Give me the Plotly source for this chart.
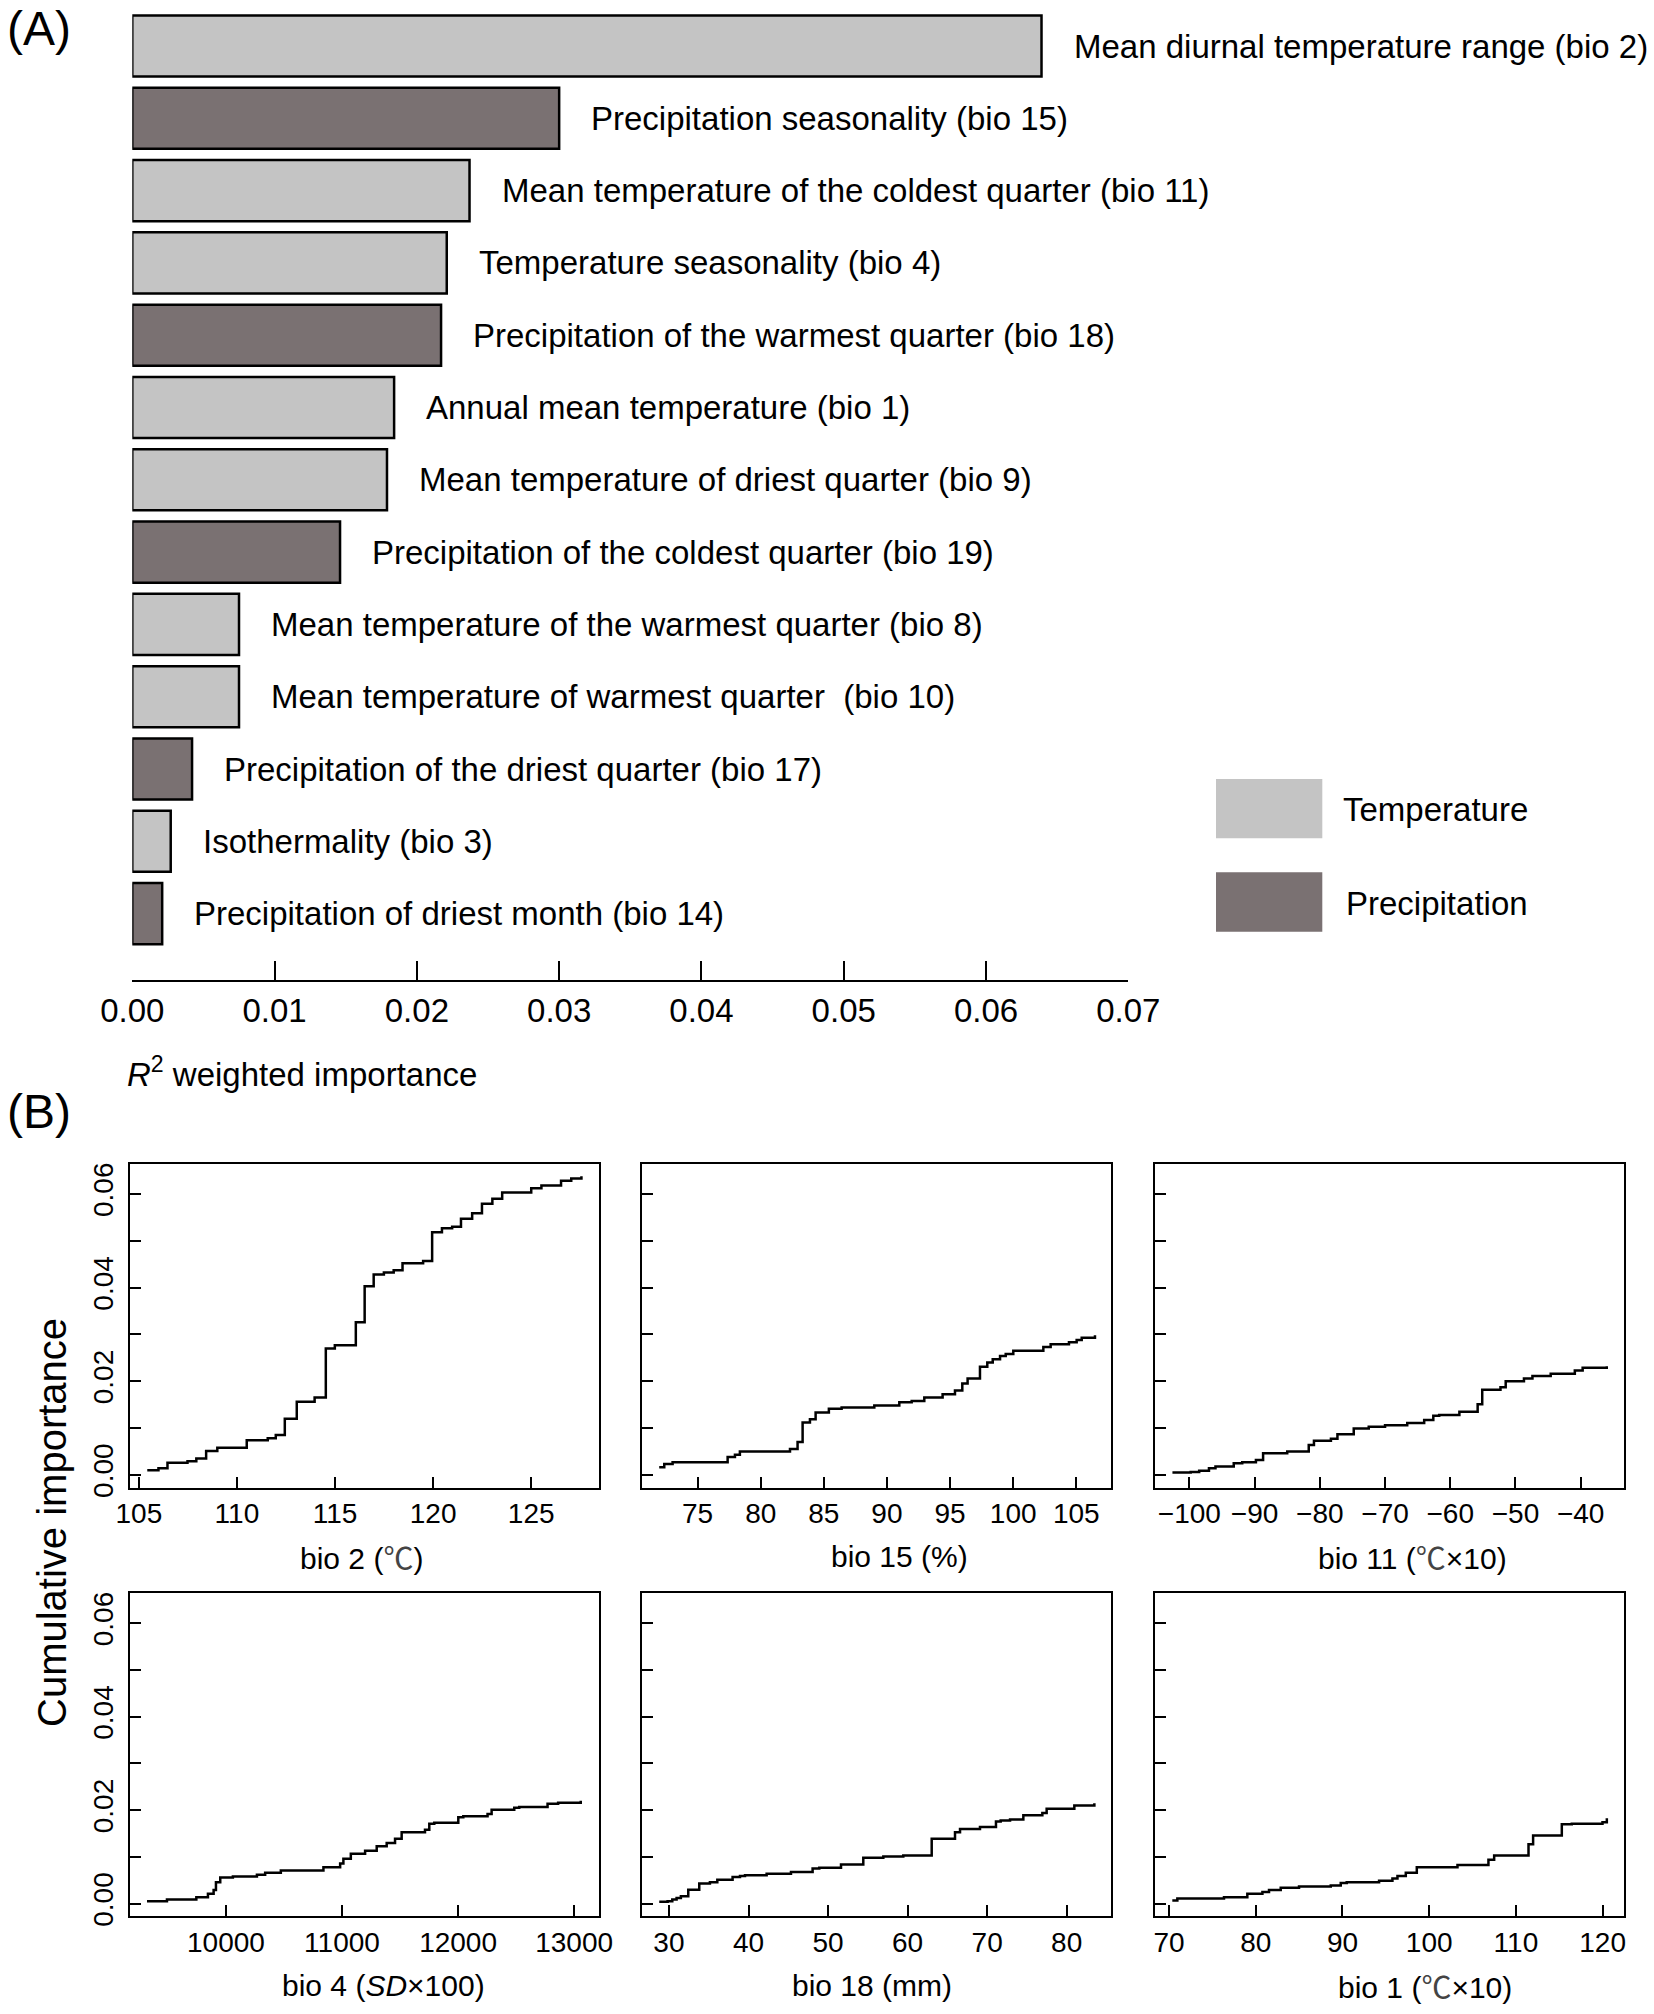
import plotly.graph_objects as go

W, H = 1654, 2014
FONT = "Liberation Sans, Arial, Noto Sans CJK SC, sans-serif"
DEG = "<span style=\"font-family:'Noto Sans CJK SC';color:#444444\">℃</span>"

# ---------------- Panel A data ----------------
var_codes = ["bio 2", "bio 15", "bio 11", "bio 4", "bio 18", "bio 1", "bio 9",
             "bio 19", "bio 8", "bio 10", "bio 17", "bio 3", "bio 14"]
var_labels = [
    "Mean diurnal temperature range (bio 2)",
    "Precipitation seasonality (bio 15)",
    "Mean temperature of the coldest quarter (bio 11)",
    "Temperature seasonality (bio 4)",
    "Precipitation of the warmest quarter (bio 18)",
    "Annual mean temperature (bio 1)",
    "Mean temperature of driest quarter (bio 9)",
    "Precipitation of the coldest quarter (bio 19)",
    "Mean temperature of the warmest quarter (bio 8)",
    "Mean temperature of warmest quarter\u00a0 (bio 10)",
    "Precipitation of the driest quarter (bio 17)",
    "Isothermality (bio 3)",
    "Precipitation of driest month (bio 14)",
]
importance = [0.0639, 0.0300, 0.0237, 0.0221, 0.0217, 0.0184, 0.0179,
              0.0146, 0.0075, 0.0075, 0.0042, 0.0027, 0.0021]
var_group = ["Temperature", "Precipitation", "Temperature", "Temperature",
             "Precipitation", "Temperature", "Temperature", "Precipitation",
             "Temperature", "Temperature", "Precipitation", "Temperature",
             "Precipitation"]
groups = ["Temperature", "Precipitation"]
group_colors = {"Temperature": "#c4c4c4", "Precipitation": "#7a7172"}
importance_ticks = [0.00, 0.01, 0.02, 0.03, 0.04, 0.05, 0.06, 0.07]

# ---------------- Panel B data (cumulative importance step curves) ----------------
bio2_x = [105.43, 106.0, 106.46, 107.48, 107.93, 108.43, 109.0, 110.5, 111.57, 111.98,
          112.44, 113.05, 113.96, 114.53, 114.99, 116.06, 116.51, 116.97, 117.49, 117.99,
          118.44, 119.49, 119.95, 120.45, 120.97, 121.42, 121.99, 122.49, 123.02, 123.52,
          125.0, 125.52, 126.52, 127.04, 127.56]
bio2_y = [0.0010, 0.0014, 0.0026, 0.0029, 0.0035, 0.0051, 0.0058, 0.0074, 0.0078, 0.0085,
          0.0120, 0.0156, 0.0165, 0.0270, 0.0277, 0.0326, 0.0403, 0.0428, 0.0432, 0.0437,
          0.0452, 0.0457, 0.0518, 0.0527, 0.0530, 0.0547, 0.0559, 0.0579, 0.0590, 0.0603,
          0.0612, 0.0618, 0.0628, 0.0633, 0.0638]

bio15_x = [71.96, 72.36, 73.02, 77.38, 77.96, 78.35, 82.32, 82.92, 83.32, 83.90,
           84.35, 85.40, 86.41, 89.00, 90.98, 91.96, 92.96, 94.41, 95.39, 95.97,
           96.39, 97.37, 97.95, 98.38, 98.96, 99.41, 100.01, 102.39, 102.97, 104.42,
           105.03, 105.43, 106.48]
bio15_y = [0.0016, 0.0023, 0.0027, 0.0038, 0.0043, 0.0050, 0.0055, 0.0070, 0.0112, 0.0119,
           0.0133, 0.0141, 0.0144, 0.0148, 0.0155, 0.0158, 0.0165, 0.0172, 0.0180, 0.0195,
           0.0206, 0.0231, 0.0240, 0.0247, 0.0254, 0.0258, 0.0265, 0.0273, 0.0279, 0.0283,
           0.0288, 0.0293, 0.0298]

bio11_x = [-102.6, -99.8, -98.5, -97.0, -96.0, -93.2, -91.9, -89.8, -88.7, -85.0,
           -81.7, -80.9, -78.3, -77.3, -74.8, -72.5, -70.0, -66.6, -64.0, -62.6,
           -61.7, -58.6, -55.8, -55.1, -52.3, -51.5, -48.7, -47.4, -44.6, -40.9,
           -39.7, -36.0]
bio11_y = [0.0005, 0.0006, 0.0009, 0.0014, 0.0018, 0.0025, 0.0027, 0.0032, 0.0046, 0.0050,
           0.0064, 0.0073, 0.0077, 0.0087, 0.0099, 0.0103, 0.0106, 0.0111, 0.0117, 0.0126,
           0.0128, 0.0135, 0.0151, 0.0182, 0.0187, 0.0200, 0.0206, 0.0211, 0.0216, 0.0223,
           0.0229, 0.0232]

bio4_x = [9320, 9492, 9745, 9845, 9894, 9914, 9951, 10060, 10267, 10338,
          10473, 10840, 10984, 11012, 11076, 11199, 11299, 11385, 11457, 11514,
          11715, 11752, 11795, 12002, 12045, 12254, 12289, 12484, 12527, 12771,
          12862, 13057]
bio4_y = [0.0005, 0.0009, 0.0014, 0.0021, 0.0029, 0.0046, 0.0056, 0.0058, 0.0062, 0.0066,
          0.0071, 0.0078, 0.0086, 0.0096, 0.0107, 0.0113, 0.0123, 0.0130, 0.0139, 0.0153,
          0.0158, 0.0171, 0.0173, 0.0185, 0.0187, 0.0192, 0.0201, 0.0205, 0.0207, 0.0214,
          0.0216, 0.0220]

bio18_x = [28.78, 29.83, 30.42, 30.96, 31.50, 32.43, 33.81, 35.15, 36.08, 38.00,
           38.93, 39.56, 42.28, 45.34, 48.06, 48.90, 51.63, 54.43, 56.95, 59.46,
           63.03, 65.96, 66.59, 69.10, 71.11, 71.70, 72.88, 74.55, 76.94, 77.48,
           80.96, 83.48]
bio18_y = [0.0004, 0.0005, 0.0009, 0.0012, 0.0016, 0.0030, 0.0043, 0.0046, 0.0051, 0.0057,
           0.0059, 0.0061, 0.0064, 0.0068, 0.0075, 0.0077, 0.0084, 0.0098, 0.0101, 0.0103,
           0.0139, 0.0153, 0.0160, 0.0164, 0.0176, 0.0178, 0.0180, 0.0189, 0.0194, 0.0203,
           0.0210, 0.0215]

bio1_x = [70.38, 70.96, 76.34, 79.03, 80.77, 81.53, 82.88, 84.99, 88.65, 89.80,
          90.49, 94.22, 95.76, 96.34, 97.30, 98.57, 103.26, 106.83, 107.49, 111.45,
          111.98, 115.29, 116.44, 119.98, 120.48]
bio1_y = [0.0007, 0.0011, 0.0014, 0.0021, 0.0025, 0.0029, 0.0034, 0.0037, 0.0039, 0.0044,
          0.0046, 0.0049, 0.0054, 0.0059, 0.0066, 0.0078, 0.0083, 0.0094, 0.0103, 0.0127,
          0.0146, 0.0170, 0.0171, 0.0174, 0.0183]

panels = [
    dict(x=bio2_x, y=bio2_y, title=f"bio 2 ({DEG})", rng=[104.57, 128.46],
         ticks=[105, 110, 115, 120, 125]),
    dict(x=bio15_x, y=bio15_y, title="bio 15 (%)", rng=[70.62, 107.75],
         ticks=[75, 80, 85, 90, 95, 100, 105]),
    dict(x=bio11_x, y=bio11_y, title=f"bio 11 ({DEG}×10)", rng=[-105.32, -33.36],
         ticks=[-100, -90, -80, -70, -60, -50, -40]),
    dict(x=bio4_x, y=bio4_y, title="bio 4 (<i>SD</i>×100)", rng=[9177, 13215],
         ticks=[10000, 11000, 12000, 13000]),
    dict(x=bio18_x, y=bio18_y, title="bio 18 (mm)", rng=[26.65, 85.57],
         ticks=[30, 40, 50, 60, 70, 80]),
    dict(x=bio1_x, y=bio1_y, title=f"bio 1 ({DEG}×10)", rng=[68.35, 122.46],
         ticks=[70, 80, 90, 100, 110, 120]),
]
cum_major_ticks = [0.00, 0.02, 0.04, 0.06]
cum_minor_ticks = [0.01, 0.03, 0.05]


def px_x(v):
    return v / W


def px_y(v):
    return 1 - v / H


fig = go.Figure()

# ---- Panel A bars ----
for g in groups:
    xs = [v for v, gg in zip(importance, var_group) if gg == g]
    ys = [c for c, gg in zip(var_codes, var_group) if gg == g]
    fig.add_trace(go.Bar(
        x=xs, y=ys, orientation="h", width=0.845, name=g,
        marker=dict(color=group_colors[g], line=dict(color="black", width=2.5)),
        showlegend=False, xaxis="x", yaxis="y",
    ))

annotations = []
for code, lab, v in zip(var_codes, var_labels, importance):
    annotations.append(dict(
        x=v, y=code, xref="x", yref="y", text=lab, showarrow=False,
        xanchor="left", yanchor="middle", xshift=30,
        font=dict(size=33, color="black", family=FONT),
    ))

layout = dict(
    width=W, height=H, autosize=False,
    margin=dict(l=0, r=0, t=0, b=0, pad=0, autoexpand=False),
    showlegend=False,
    paper_bgcolor="white", plot_bgcolor="white",
    font=dict(family=FONT, color="black"),
    xaxis=dict(
        domain=[px_x(132.3), px_x(1128.3)], range=[0, 0.07],
        tickvals=importance_ticks, tickformat=".2f",
        ticks="inside", ticklen=19, tickwidth=2, tickcolor="black",
        showline=True, linecolor="black", linewidth=2,
        showgrid=False, zeroline=False, automargin=False,
        tickfont=dict(size=33, family=FONT), anchor="y",
    ),
    yaxis=dict(
        domain=[px_y(980), px_y(9.85)],
        type="category", categoryorder="array", categoryarray=var_codes,
        range=[12.918, -0.5], automargin=False,
        showticklabels=False, showline=False, showgrid=False, zeroline=False,
        ticks="", anchor="x",
    ),
)

# ---- Panel B ----
col_px = [(130.4, 599.1), (642.3, 1111.0), (1154.7, 1624.0)]
row_px = [(1164.0, 1487.5), (1593.3, 1916.3)]
title_cx = [361.0, 899.0, 1412.0, 383.0, 872.5, 1425.0]
title_cy = [1556.0, 1556.0, 1556.0, 1985.0, 1985.0, 1985.0]

for i, p in enumerate(panels):
    r, c = divmod(i, 3)
    n = i + 2
    xa, ya = f"x{n}", f"y{n}"
    fig.add_trace(go.Scatter(
        x=p["x"], y=p["y"], mode="lines", line=dict(color="black", width=2.5, shape="hv"),
        showlegend=False, xaxis=xa, yaxis=ya,
    ))
    layout[f"xaxis{n}"] = dict(
        domain=[px_x(col_px[c][0]), px_x(col_px[c][1])], range=p["rng"],
        tickvals=p["ticks"], tickformat="d",
        ticks="inside", ticklen=11, tickwidth=2, tickcolor="black",
        showline=True, mirror=True, linecolor="black", linewidth=2,
        showgrid=False, zeroline=False, anchor=ya, automargin=False,
        tickfont=dict(size=28, family=FONT),
    )
    layout[f"yaxis{n}"] = dict(
        domain=[px_y(row_px[r][1]), px_y(row_px[r][0])], range=[-0.0027, 0.0664],
        tickvals=cum_major_ticks, tickformat=".2f", tickangle=-90,
        showticklabels=(c == 0), ticklabelstandoff=4,
        ticks="inside", ticklen=11, tickwidth=2, tickcolor="black",
        minor=dict(tickvals=cum_minor_ticks, ticks="inside", ticklen=11,
                   tickwidth=2, tickcolor="black", showgrid=False),
        showline=True, mirror=True, linecolor="black", linewidth=2,
        showgrid=False, zeroline=False, anchor=xa, automargin=False,
        tickfont=dict(size=28, family=FONT),
    )
    annotations.append(dict(
        x=px_x(title_cx[i]), y=px_y(title_cy[i]), xref="paper", yref="paper",
        text=p["title"], showarrow=False, xanchor="center", yanchor="middle",
        font=dict(size=30, family=FONT, color="black"),
    ))

# ---- Other texts ----
annotations += [
    dict(x=px_x(38.7), y=px_y(29), xref="paper", yref="paper", text="(A)",
         showarrow=False, xanchor="center", yanchor="middle",
         font=dict(size=48, family=FONT, color="black")),
    dict(x=px_x(38.7), y=px_y(1111), xref="paper", yref="paper", text="(B)",
         showarrow=False, xanchor="center", yanchor="middle",
         font=dict(size=48, family=FONT, color="black")),
    dict(x=px_x(125), y=px_y(1072), xref="paper", yref="paper",
         text="<i>R</i><sup>2</sup> weighted importance",
         showarrow=False, xanchor="left", yanchor="middle",
         font=dict(size=33, family=FONT, color="black")),
    dict(x=px_x(52), y=px_y(1523), xref="paper", yref="paper",
         text="Cumulative importance", textangle=-90,
         showarrow=False, xanchor="center", yanchor="middle",
         font=dict(size=40, family=FONT, color="black")),
    dict(x=px_x(1340.7), y=px_y(809.3), xref="paper", yref="paper", text="Temperature",
         showarrow=False, xanchor="left", yanchor="middle",
         font=dict(size=33, family=FONT, color="black")),
    dict(x=px_x(1344), y=px_y(903.3), xref="paper", yref="paper", text="Precipitation",
         showarrow=False, xanchor="left", yanchor="middle",
         font=dict(size=33, family=FONT, color="black")),
]

shapes = [
    dict(type="rect", xref="paper", yref="paper",
         x0=px_x(1216), x1=px_x(1322.3), y0=px_y(838.3), y1=px_y(779),
         fillcolor=group_colors["Temperature"], line=dict(width=0)),
    dict(type="rect", xref="paper", yref="paper",
         x0=px_x(1216), x1=px_x(1322.3), y0=px_y(931.7), y1=px_y(872.3),
         fillcolor=group_colors["Precipitation"], line=dict(width=0)),
]

layout["annotations"] = annotations
layout["shapes"] = shapes
fig.update_layout(**layout)

fig.write_html(
    "out.html",
    config={"displayModeBar": False, "staticPlot": True},
    post_script="document.body.style.margin='0px';document.body.style.overflow='hidden';",
)
